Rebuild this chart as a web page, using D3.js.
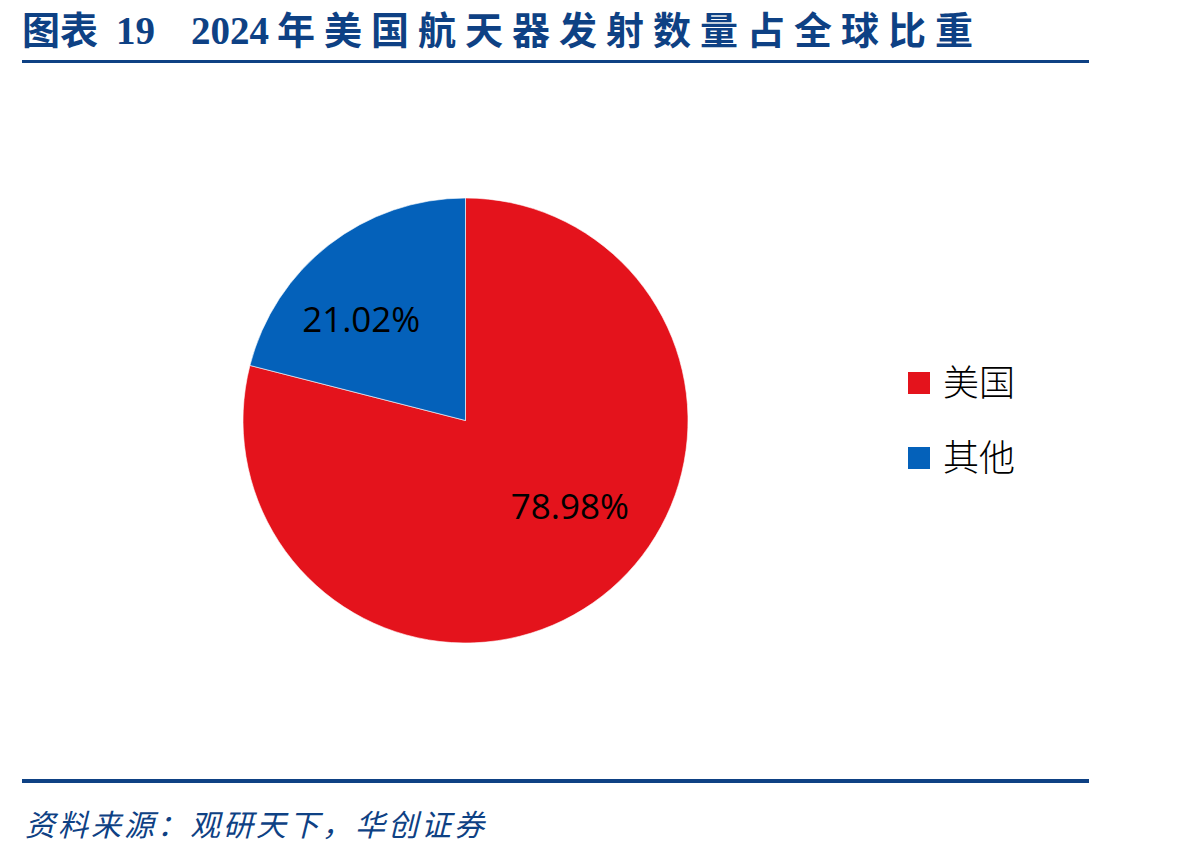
<!DOCTYPE html>
<html>
<head>
<meta charset="utf-8">
<script src="https://cdn.jsdelivr.net/npm/d3@7"></script>
<style>
    body { margin: 0; background: #fff; }
    svg { display: block; }
</style>
</head>
<body>
<div id="chart"></div>
<script>
// data
const categories = ['美国', '其他']
const shares = [78.98, 21.02]
const colors = ['#E4131C', '#0461BA']

const width = 1198,
    height = 857
const blue = '#0E4184'
const cjk = '"Noto Sans CJK SC", "Noto Sans CJK TC", sans-serif'

const svg = d3.select('#chart')
    .append('svg')
    .attr('width', width)
    .attr('height', height)

// title
const title = svg.append('text')
    .attr('y', 44)
    .attr('fill', blue)
    .style('font-weight', 'bold')
title.append('tspan').attr('x', 22).style('font-family', cjk).style('font-size', '38px')
    .text('图表')
title.append('tspan').attr('x', 116).style('font-family', '"Liberation Serif", serif').style('font-size', '39px')
    .text('19')
title.append('tspan').attr('x', 191).style('font-family', '"Liberation Serif", serif').style('font-size', '39px')
    .text('2024')
title.append('tspan').attr('x', 277).style('font-family', cjk).style('font-size', '38px')
    .style('letter-spacing', '9px').text('年美国航天器发射数量占全球比重')

svg.append('rect').attr('x', 22).attr('y', 60).attr('width', 1067).attr('height', 3).attr('fill', blue)
svg.append('rect').attr('x', 22).attr('y', 779).attr('width', 1067).attr('height', 4).attr('fill', blue)

svg.append('text')
    .attr('x', 25)
    .attr('y', 836)
    .attr('fill', blue)
    .style('font-family', cjk)
    .style('font-size', '30px')
    .style('font-style', 'italic')
    .style('letter-spacing', '3px')
    .text('资料来源：观研天下，华创证券')

// pie
const cx = 465.5,
    cy = 420.5,
    radius = 222.5
const data = categories.map((name, i) => ({ name, value: shares[i], color: colors[i] }))

const pie = d3.pie()
    .sort(null)
    .value(d => d.value)
const arcs = pie(data)

const arcGenerator = d3.arc()
    .innerRadius(0)
    .outerRadius(radius)

const g = svg.append('g')
    .attr('transform', 'translate(' + cx + ',' + cy + ')')

g.selectAll('path')
    .data(arcs)
    .enter()
    .append('path')
    .attr('d', arcGenerator)
    .attr('fill', d => d.data.color)
    .attr('stroke', '#fff')
    .attr('stroke-width', 0.6)

// labels sit a bit counterclockwise of the mid angle and a little higher, like excel does
const labelShift = -0.18
const labelRadius = 140
const labelLift = 7
g.selectAll('text')
    .data(arcs)
    .enter()
    .append('text')
    .attr('x', d => labelRadius * Math.sin((d.startAngle + d.endAngle) / 2 + labelShift))
    .attr('y', d => -labelRadius * Math.cos((d.startAngle + d.endAngle) / 2 + labelShift) - labelLift)
    .attr('dy', '0.35em')
    .attr('text-anchor', 'middle')
    .style('font-family', '"Open Sans", sans-serif')
    .style('font-size', '35px')
    .attr('fill', '#000')
    .text(d => d3.format('.2f')(d.data.value) + '%')

// legend
const legendY = d3.scalePoint()
    .domain(categories)
    .range([383, 458])

const legend = svg.append('g')
    .selectAll('g')
    .data(data)
    .enter()
    .append('g')
    .attr('transform', d => 'translate(908,' + legendY(d.name) + ')')

legend.append('rect')
    .attr('x', 0)
    .attr('y', -11)
    .attr('width', 22)
    .attr('height', 22)
    .attr('fill', d => d.color)

legend.append('text')
    .attr('x', 35)
    .attr('dy', '0.36em')
    .style('font-family', cjk)
    .style('font-size', '36px')
    .style('font-weight', 300)
    .attr('fill', '#000')
    .text(d => d.name)
</script>
</body>
</html>
